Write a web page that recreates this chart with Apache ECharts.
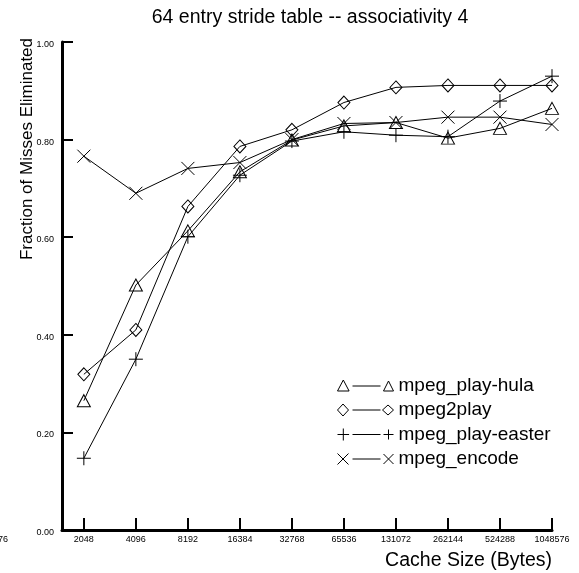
<!DOCTYPE html>
<html>
<head>
<meta charset="utf-8">
<script src="https://cdn.jsdelivr.net/npm/echarts@6/dist/echarts.min.js"></script>
<style>
html,body{margin:0;padding:0;background:#fff;}
#chart{width:579px;height:573px;}
</style>
</head>
<body>
<div id="chart"></div>
<script>
// Categories (cache sizes in bytes), plotted at equal log2 spacing
const categories = ['2048','4096','8192','16384','32768','65536','131072','262144','524288','1048576'];
const yTicks = [0, 0.2, 0.4, 0.6, 0.8, 1.0];

const seriesNames = ['mpeg_play-hula', 'mpeg2play', 'mpeg_play-easter', 'mpeg_encode'];
const hula   = [0.265, 0.502, 0.613, 0.734, 0.799, 0.828, 0.835, 0.803, 0.823, 0.864];
const mpeg2  = [0.319, 0.410, 0.663, 0.786, 0.820, 0.876, 0.907, 0.911, 0.911, 0.911];
const easter = [0.147, 0.350, 0.601, 0.727, 0.797, 0.816, 0.809, 0.806, 0.879, 0.930];
const encode = [0.766, 0.690, 0.741, 0.753, 0.800, 0.833, 0.835, 0.846, 0.846, 0.831];

const FONT = 'Liberation Sans, Arial, Helvetica, sans-serif';
const PLUS = 'path://M5 0 L5 10 M0 5 L10 5';
const CROSS = 'path://M0 0 L10 10 M0 10 L10 0';

const legendIcons = [
  'path://M0 11 L5.8 0 L11.6 11 Z M15 6 L43 6 M46 11 L51 1 L56 11 Z',
  'path://M0 6 L5.5 0 L11 6 L5.5 12 Z M15 6 L43 6 M45 6 L50.5 1 L56 6 L50.5 11 Z',
  'path://M5.8 0 L5.8 12 M0 6 L11.6 6 M15 6 L43 6 M51 1 L51 11 M46 6 L56 6',
  'path://M0 0.5 L11 11.5 M0 11.5 L11 0.5 M15 6 L43 6 M46 1 L56 11 M46 11 L56 1'
];

function pts(arr){ return arr.map((v,i)=>[i, v]); }

const symbols = [
  {symbol:'triangle', size:[13,12]},
  {symbol:'diamond', size:[12,13]},
  {symbol:PLUS, size:[14,14]},
  {symbol:CROSS, size:[13,13]}
];
const dataSets = [hula, mpeg2, easter, encode];

const chart = echarts.init(document.getElementById('chart'), null, {renderer:'canvas'});
const option = {
  backgroundColor:'#fff',
  animation:false,
  title:{
    text:'64 entry stride table -- associativity 4',
    left:305, top:3, textAlign:'center',
    textStyle:{fontFamily:FONT, fontSize:19.5, fontWeight:'normal', color:'#000'}
  },
  grid:{left:62, right:27, top:42, bottom:43},
  xAxis:{
    type:'value', min:-0.42, max:9,
    axisLine:{show:true, onZero:false, lineStyle:{color:'#000', width:3}},
    axisTick:{show:true, inside:true, length:12, lineStyle:{color:'#000', width:2},
      customValues:[0,1,2,3,4,5,6,7,8,9]},
    axisLabel:{show:true, margin:5, fontFamily:FONT, fontSize:9, color:'#000',
      customValues:[0,1,2,3,4,5,6,7,8,9],
      formatter:(v)=>categories[Math.round(v)]},
    splitLine:{show:false}
  },
  yAxis:{
    type:'value', min:0, max:1, interval:0.2,
    axisLine:{show:true, onZero:false, lineStyle:{color:'#000', width:3}},
    axisTick:{show:true, inside:true, length:11, lineStyle:{color:'#000', width:2}},
    axisLabel:{show:true, margin:8, fontFamily:FONT, fontSize:9, color:'#000',
      verticalAlign:'top', padding:[-2,0,0,0],
      formatter:(v)=>v.toFixed(2)},
    splitLine:{show:false}
  },
  legend:{
    orient:'vertical', left:332, top:371, itemGap:5.5,
    itemWidth:56, itemHeight:12,
    data:seriesNames.map((n,i)=>({name:n, icon:legendIcons[i]})),
    itemStyle:{color:'rgba(0,0,0,0)', borderColor:'#000', borderWidth:1},
    textStyle:{fontFamily:FONT, fontSize:19, color:'#000', padding:[0,0,0,0]},
    selectedMode:false
  },
  graphic:[
    {type:'text', x:27, y:149, rotation:Math.PI/2,
      style:{text:'Fraction of Misses Eliminated', font:'17px '+FONT, fill:'#000',
        textAlign:'center', textVerticalAlign:'middle'}},
    {type:'text', x:552, y:561,
      style:{text:'Cache Size (Bytes)', font:'19.5px '+FONT, fill:'#000',
        textAlign:'right', textVerticalAlign:'middle'}},
    {type:'text', x:8, y:540,
      style:{text:categories[categories.length-1], font:'9px '+FONT, fill:'#000',
        textAlign:'right', textVerticalAlign:'middle'}}
  ],
  series:seriesNames.map((n,i)=>({
    name:n, type:'line', data:pts(dataSets[i]),
    symbol:symbols[i].symbol, symbolSize:symbols[i].size,
    showAllSymbol:true,
    lineStyle:{color:'#000', width:1},
    itemStyle:{color:'rgba(0,0,0,0)', borderColor:'#000', borderWidth:1},
    emphasis:{disabled:true}
  }))
};
chart.setOption(option);
</script>
</body>
</html>
